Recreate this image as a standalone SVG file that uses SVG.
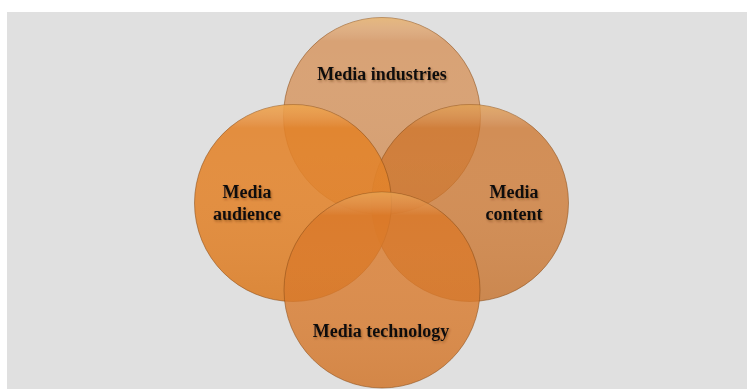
<svg xmlns="http://www.w3.org/2000/svg" width="747" height="389" viewBox="0 0 747 389">
<defs>
<linearGradient id="shine" x1="0" y1="0" x2="0" y2="1">
<stop offset="0" stop-color="#ffe08a" stop-opacity="0.35"/>
<stop offset="0.12" stop-color="#ffffff" stop-opacity="0"/>
<stop offset="1" stop-color="#7a3a00" stop-opacity="0.08"/>
</linearGradient>
<filter id="ts" x="-10%" y="-30%" width="120%" height="160%">
<feDropShadow dx="1" dy="1.5" stdDeviation="1.2" flood-color="#5a2a00" flood-opacity="0.45"/>
</filter>
</defs>
<style>
.c{stroke:#8a4a14;stroke-opacity:0.55;stroke-width:1}
.g{fill:url(#shine);stroke:none}
.t{font-family:"Liberation Serif","Times New Roman",serif;font-weight:bold;font-size:18px;fill:#111;text-anchor:middle;filter:url(#ts)}
</style>
<rect x="0" y="0" width="747" height="389" fill="#ffffff"/>
<rect x="7" y="12" width="740" height="377" fill="#e0e0e0"/>
<g id="connectors"/>
<g id="industries">
<circle class="c" cx="382" cy="116" r="98.5" fill="rgb(210,120,45)" fill-opacity="0.6"/>
<circle class="g" cx="382" cy="116" r="98.5"/>
<text class="t" x="382" y="80">Media industries</text>
</g>
<g id="content">
<circle class="c" cx="470" cy="203" r="98.5" fill="rgb(205,115,40)" fill-opacity="0.75"/>
<circle class="g" cx="470" cy="203" r="98.5"/>
<text class="t" x="514" y="198">Media</text>
<text class="t" x="514" y="220">content</text>
</g>
<g id="audience">
<circle class="c" cx="293" cy="203" r="98.5" fill="rgb(226,130,40)" fill-opacity="0.88"/>
<circle class="g" cx="293" cy="203" r="98.5"/>
<text class="t" x="247" y="198">Media</text>
<text class="t" x="247" y="220">audience</text>
</g>
<g id="technology">
<circle class="c" cx="382" cy="290" r="98" fill="rgb(218,120,40)" fill-opacity="0.8"/>
<circle class="g" cx="382" cy="290" r="98"/>
<text class="t" x="381" y="337">Media technology</text>
</g>
</svg>
